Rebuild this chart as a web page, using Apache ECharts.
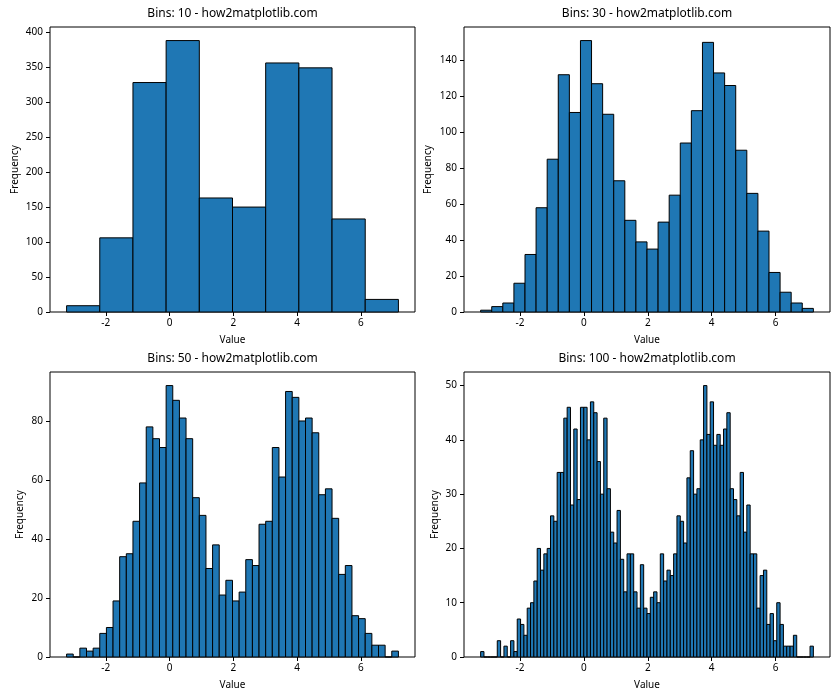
<!DOCTYPE html>
<html><head><meta charset="utf-8">
<script src="https://cdn.jsdelivr.net/npm/echarts@6/dist/echarts.min.js"></script>
<style>html,body{margin:0;padding:0;background:#fff}#c{width:840px;height:700px}</style>
</head><body><div id="c"></div>
<script>
// Data range of the sample (histogram covers min..max)
const dataMin = -3.23;
const dataMax = 7.18;

// Bin counts
const counts10 = [9, 106, 328, 388, 163, 150, 356, 349, 133, 18];
const counts30 = [1, 3, 5, 16, 32, 58, 85, 132, 111, 151,
                  127, 110, 73, 51, 39, 35, 50, 65, 94, 112,
                  150, 133, 126, 90, 66, 45, 22, 11, 5, 2];
const counts50 = [1, 0, 3, 2, 3, 8, 10, 19, 34, 35,
                  46, 59, 78, 74, 71, 92, 87, 81, 74, 54,
                  48, 30, 38, 21, 26, 19, 22, 33, 31, 45,
                  46, 71, 61, 90, 88, 80, 81, 76, 55, 57,
                  47, 28, 31, 14, 13, 8, 4, 4, 0, 2];
const counts100 = [1, 0, 0, 0, 0, 3, 0, 2, 0, 3,
                   1, 7, 6, 4, 9, 10, 14, 20, 16, 19,
                   20, 26, 25, 34, 34, 44, 46, 28, 42, 29,
                   46, 46, 40, 47, 45, 36, 30, 44, 31, 23,
                   21, 27, 18, 12, 19, 19, 12, 9, 17, 9,
                   8, 11, 12, 10, 19, 14, 16, 15, 19, 26,
                   25, 21, 33, 38, 30, 31, 40, 50, 41, 47,
                   39, 41, 39, 42, 45, 31, 29, 26, 34, 23,
                   28, 19, 19, 9, 15, 16, 6, 8, 3, 10,
                   6, 2, 2, 2, 4, 0, 0, 0, 0, 2];

const titles = ['Bins: 10 - how2matplotlib.com', 'Bins: 30 - how2matplotlib.com',
                'Bins: 50 - how2matplotlib.com', 'Bins: 100 - how2matplotlib.com'];
const xTicks = [-2, 0, 2, 4, 6];
const yTicks10 = [0, 50, 100, 150, 200, 250, 300, 350, 400];
const yTicks30 = [0, 20, 40, 60, 80, 100, 120, 140];
const yTicks50 = [0, 20, 40, 60, 80];
const yTicks100 = [0, 10, 20, 30, 40, 50];

const allCounts = [counts10, counts30, counts50, counts100];
const allYTicks = [yTicks10, yTicks30, yTicks50, yTicks100];

const FONT = 'Noto Sans';
const grids = [
  {left: 50, top: 27, width: 365, height: 285},
  {left: 464, top: 27, width: 366, height: 285},
  {left: 50, top: 372, width: 365, height: 285},
  {left: 464, top: 372, width: 366, height: 285}
];
const nameGaps = [30, 31, 25, 24];

const span = dataMax - dataMin;
const xMin = dataMin - 0.05 * span;
const xMax = dataMax + 0.05 * span;

function binData(counts) {
  const n = counts.length, w = span / n;
  return counts.map((c, i) => [dataMin + i * w, dataMin + (i + 1) * w, c]);
}

const option = {
  animation: false,
  backgroundColor: '#fff',
  textStyle: {fontFamily: FONT},
  grid: grids.map(g => Object.assign({show: true, borderColor: '#000', borderWidth: 1,
    backgroundColor: 'transparent', containLabel: false, outerBoundsMode: 'none'}, g)),
  xAxis: grids.map((g, i) => ({
    type: 'value', gridIndex: i, min: xMin, max: xMax, position: 'bottom',
    splitLine: {show: false}, axisLine: {show: false, onZero: false},
    axisTick: {show: true, customValues: xTicks, length: 4, inside: false, lineStyle: {color: '#000'}},
    axisLabel: {customValues: xTicks, fontSize: 10, color: '#000', margin: 6, fontFamily: FONT},
    name: 'Value', nameLocation: 'middle', nameGap: 23,
    nameTextStyle: {fontSize: 10, color: '#000', fontFamily: FONT}
  })),
  yAxis: grids.map((g, i) => ({
    type: 'value', gridIndex: i, min: 0, max: Math.max(...allCounts[i]) * 1.05, position: 'left',
    splitLine: {show: false}, axisLine: {show: false, onZero: false},
    axisTick: {show: true, customValues: allYTicks[i], length: 4, lineStyle: {color: '#000'}},
    axisLabel: {customValues: allYTicks[i], fontSize: 10, color: '#000', margin: 7, fontFamily: FONT},
    name: 'Frequency', nameLocation: 'middle', nameGap: nameGaps[i], nameRotate: 90,
    nameTextStyle: {fontSize: 10, color: '#000', fontFamily: FONT}
  })),
  series: allCounts.map((counts, i) => ({
    type: 'custom', xAxisIndex: i, yAxisIndex: i,
    data: binData(counts),
    encode: {x: [0, 1], y: 2},
    renderItem: function (params, api) {
      const p0 = api.coord([api.value(0), 0]);
      const p1 = api.coord([api.value(1), api.value(2)]);
      return {type: 'rect',
        shape: {x: p0[0], y: p1[1], width: p1[0] - p0[0], height: p0[1] - p1[1]},
        style: {fill: '#1f77b4', stroke: '#000', lineWidth: 1}};
    }
  })),
  graphic: grids.map((g, i) => ({
    type: 'text', x: g.left + g.width / 2, y: g.top - 7,
    style: {text: titles[i], fontSize: 12, fontFamily: FONT, fill: '#000',
      textAlign: 'center', textVerticalAlign: 'bottom'}
  }))
};

const chart = echarts.init(document.getElementById('c'), null, {renderer: 'canvas'});
chart.setOption(option);
</script></body></html>
